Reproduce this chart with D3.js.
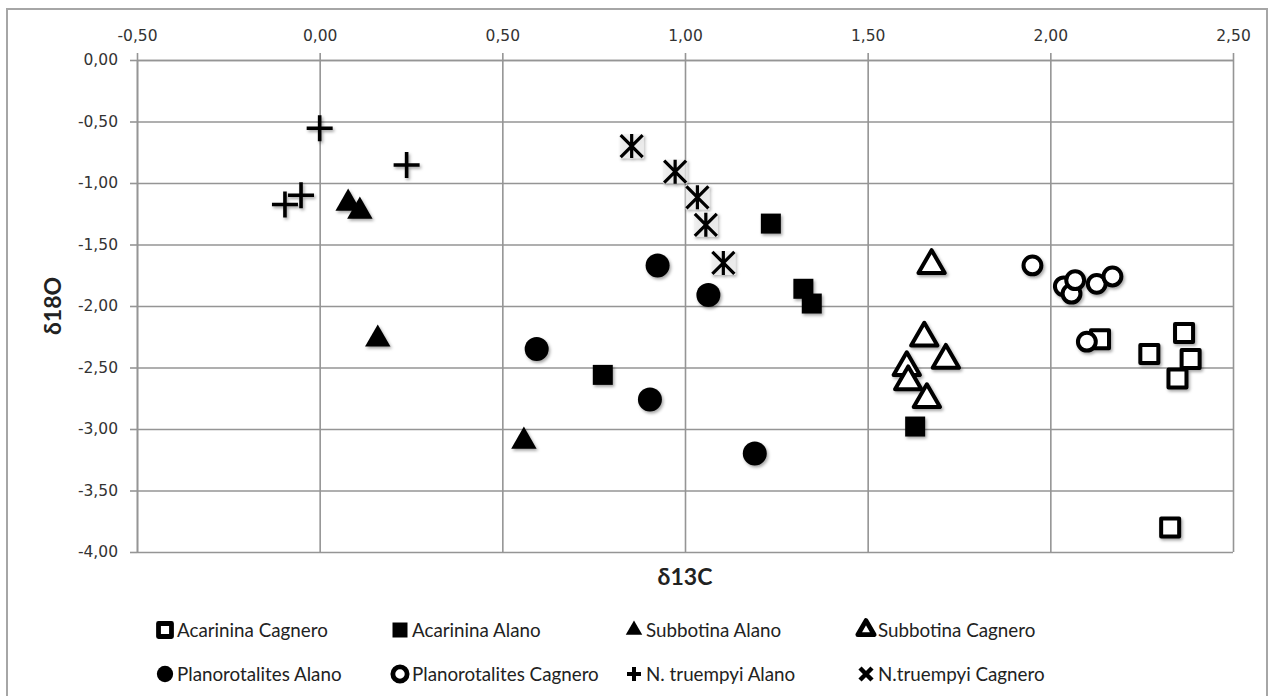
<!DOCTYPE html>
<html>
<head>
<meta charset="utf-8">
<script src="https://cdn.jsdelivr.net/npm/d3@7"></script>
<style>
  html, body { margin: 0; padding: 0; background: #fff; }
  svg { display: block; }
</style>
</head>
<body>
<svg id="chart" width="1273" height="696"></svg>
<script>
// δ13C / δ18O stable isotope values per taxon and section
const acarininaCagnero = [
  [2.136, -2.27], [2.366, -2.22], [2.271, -2.39], [2.384, -2.43], [2.348, -2.59], [2.328, -3.80]
];
const acarininaAlano = [
  [1.235, -1.33], [1.324, -1.86], [1.347, -1.98], [0.775, -2.56], [1.630, -2.98]
];
const subbotinaAlano = [
  [0.078, -1.165], [0.110, -1.23], [0.159, -2.27], [0.559, -3.10]
];
const subbotinaCagnero = [
  [1.675, -1.67], [1.655, -2.26], [1.714, -2.44], [1.607, -2.50], [1.611, -2.615], [1.662, -2.76]
];
const planorotalitesAlano = [
  [0.925, -1.67], [1.064, -1.91], [0.594, -2.35], [0.904, -2.76], [1.191, -3.20]
];
const planorotalitesCagnero = [
  [1.951, -1.67], [2.037, -1.84], [2.058, -1.90], [2.068, -1.79], [2.127, -1.82], [2.170, -1.76], [2.100, -2.29]
];
const truempyiAlano = [
  [0.000, -0.555], [0.238, -0.854], [-0.051, -1.10], [-0.095, -1.175]
];
const truempyiCagnero = [
  [0.854, -0.70], [0.973, -0.908], [1.034, -1.116], [1.057, -1.34], [1.105, -1.65]
];

const xTicks = [-0.5, 0, 0.5, 1, 1.5, 2, 2.5];
const yTicks = [0, -0.5, -1, -1.5, -2, -2.5, -3, -3.5, -4];
const xTitle = "δ13C";
const yTitle = "δ18O";

const seriesNames = [
  "Acarinina Cagnero", "Acarinina Alano", "Subbotina Alano", "Subbotina Cagnero",
  "Planorotalites Alano", "Planorotalites Cagnero", "N. truempyi Alano", "N.truempyi Cagnero"
];

const series = [
  { name: seriesNames[0], data: acarininaCagnero, shape: "openSquare" },
  { name: seriesNames[1], data: acarininaAlano, shape: "square" },
  { name: seriesNames[2], data: subbotinaAlano, shape: "triangle" },
  { name: seriesNames[3], data: subbotinaCagnero, shape: "openTriangle" },
  { name: seriesNames[4], data: planorotalitesAlano, shape: "circle" },
  { name: seriesNames[5], data: planorotalitesCagnero, shape: "openCircle" },
  { name: seriesNames[6], data: truempyiAlano, shape: "plus" },
  { name: seriesNames[7], data: truempyiCagnero, shape: "asterisk" }
];

const svg = d3.select("#chart");
const plot = { left: 137, right: 1233, top: 60, bottom: 552 };

const locale = d3.formatLocale({ decimal: ",", thousands: ".", grouping: [3], currency: ["", "€"], minus: "-" });
const fmt = locale.format(".2f");

const x = d3.scaleLinear().domain([-0.5, 2.5]).range([plot.left, plot.right]);
const y = d3.scaleLinear().domain([0, -4]).range([plot.top, plot.bottom]);

// marker drop shadow
const defs = svg.append("defs");
const f = defs.append("filter").attr("id", "shadow").attr("x", "-50%").attr("y", "-50%").attr("width", "200%").attr("height", "200%");
f.append("feDropShadow").attr("dx", 1.5).attr("dy", 2).attr("stdDeviation", 1.4)
  .attr("flood-color", "#000").attr("flood-opacity", 0.35);

// outer chart frame
svg.append("rect").attr("x", 7).attr("y", 9).attr("width", 1260).attr("height", 690)
  .attr("fill", "#fff").attr("stroke", "#a6a6a6").attr("stroke-width", 2);

const gridColor = "#959595";

// gridlines
svg.append("g").attr("transform", `translate(0,${plot.top})`)
  .call(d3.axisTop(x).tickValues(xTicks).tickSize(-(plot.bottom - plot.top)).tickFormat(""))
  .call(g => g.select(".domain").remove())
  .call(g => g.selectAll("line").attr("stroke", gridColor).attr("stroke-width", 1.6));
svg.append("g").attr("transform", `translate(${plot.left},0)`)
  .call(d3.axisLeft(y).tickValues(yTicks).tickSize(-(plot.right - plot.left)).tickFormat(""))
  .call(g => g.select(".domain").remove())
  .call(g => g.selectAll("line").attr("stroke", gridColor).attr("stroke-width", 1.6));

// axes with outside tick marks
const tickFont = "'DejaVu Sans', Verdana, sans-serif";
svg.append("g").attr("transform", `translate(0,${plot.top})`)
  .call(d3.axisTop(x).tickValues(xTicks).tickSizeInner(7).tickSizeOuter(0).tickPadding(12).tickFormat(fmt))
  .call(g => g.select(".domain").attr("stroke", gridColor).attr("stroke-width", 1.6))
  .call(g => g.selectAll("line").attr("stroke", gridColor).attr("stroke-width", 1.6))
  .call(g => g.selectAll("text").attr("font-family", tickFont).attr("font-size", 15.5).attr("fill", "#333"));
svg.append("g").attr("transform", `translate(${plot.left},0)`)
  .call(d3.axisLeft(y).tickValues(yTicks).tickSizeInner(7).tickSizeOuter(0).tickPadding(12).tickFormat(fmt))
  .call(g => g.select(".domain").attr("stroke", gridColor).attr("stroke-width", 1.6))
  .call(g => g.selectAll("line").attr("stroke", gridColor).attr("stroke-width", 1.6))
  .call(g => g.selectAll("text").attr("font-family", tickFont).attr("font-size", 15.5).attr("fill", "#333"));

// axis titles
const titleFont = "Lato, 'Open Sans', sans-serif";
svg.append("text").attr("x", (plot.left + plot.right) / 2).attr("y", 585)
  .attr("text-anchor", "middle").attr("font-family", titleFont).attr("font-weight", "bold")
  .attr("font-size", 23).attr("fill", "#222").text(xTitle);
svg.append("text").attr("transform", `translate(61,${(plot.top + plot.bottom) / 2}) rotate(-90)`)
  .attr("text-anchor", "middle").attr("font-family", titleFont).attr("font-weight", "bold")
  .attr("font-size", 23).attr("fill", "#222").text(yTitle);

// marker drawing; s scales the symbol, sw overrides the outline width
function drawMarker(g, shape, s, sw) {
  const w = sw || 4 * s;
  switch (shape) {
    case "square":
      g.append("path").attr("d", d3.symbol(d3.symbolSquare, 400 * s * s)()).attr("fill", "#000");
      break;
    case "openSquare":
      g.append("path").attr("d", d3.symbol(d3.symbolSquare, 324 * s * s)())
        .attr("fill", "#fff").attr("stroke", "#000").attr("stroke-width", w).attr("stroke-linejoin", "round");
      break;
    case "circle":
      g.append("path").attr("d", d3.symbol(d3.symbolCircle, 452 * s * s)()).attr("fill", "#000");
      break;
    case "openCircle":
      g.append("path").attr("d", d3.symbol(d3.symbolCircle, 250 * s * s)())
        .attr("fill", "#fff").attr("stroke", "#000").attr("stroke-width", w);
      break;
    case "triangle":
      g.append("path").attr("d", d3.symbol(d3.symbolTriangle, 280 * s * s)()).attr("fill", "#000");
      break;
    case "openTriangle":
      g.append("path").attr("d", d3.symbol(d3.symbolTriangle, 300 * s * s)())
        .attr("fill", "#fff").attr("stroke", "#000").attr("stroke-width", w).attr("stroke-linejoin", "round");
      break;
    case "plus": {
      const a = 13 * s;
      g.append("path").attr("d", `M${-a},0H${a}M0,${-a}V${a}`)
        .attr("stroke", "#000").attr("stroke-width", 3.6 * s).attr("fill", "none");
      break;
    }
    case "asterisk": {
      const a = 12 * s;
      const d = 11 * s;
      g.append("rect").attr("x", -a).attr("y", -a).attr("width", 2 * a).attr("height", 2 * a)
        .attr("fill", "#f0f0f0").attr("opacity", 0.7);
      g.append("path").attr("d", `M${-d},${-d}L${d},${d}M${-d},${d}L${d},${-d}M0,${-a}V${a}`)
        .attr("stroke", "#000").attr("stroke-width", 3.2 * s).attr("fill", "none");
      break;
    }
  }
}

// points
const pts = svg.append("g").attr("filter", "url(#shadow)");
series.forEach(sr => {
  sr.data.forEach(([dx, dy]) => {
    const g = pts.append("g").attr("transform", `translate(${x(dx)},${y(dy)})`);
    drawMarker(g, sr.shape, 1);
  });
});

// legend
const legendCols = [157, 392, 626, 858];
const legendRows = [630, 674];
const legendScale = {
  openSquare: 0.72, square: 0.75, triangle: 0.65, openTriangle: 0.62,
  circle: 0.68, openCircle: 0.8, plus: 0.65, asterisk: 0.7
};
const legend = svg.append("g");
series.forEach((sr, i) => {
  const cx = legendCols[i % 4] + 8;
  const cy = legendRows[Math.floor(i / 4)];
  const g = legend.append("g").attr("transform", `translate(${cx},${cy})`);
  if (sr.shape === "asterisk") {
    g.append("path").attr("d", "M-6,-6L6,6M-6,6L6,-6").attr("stroke", "#000").attr("stroke-width", 4.5);
  } else if (sr.shape === "plus") {
    g.append("path").attr("d", "M-7,0H7M0,-7V7").attr("stroke", "#000").attr("stroke-width", 4);
  } else {
    drawMarker(g, sr.shape, legendScale[sr.shape], 4.8);
  }
  legend.append("text").attr("x", cx + 12).attr("y", cy).attr("dy", "0.35em")
    .attr("font-family", "Lato, 'Open Sans', sans-serif").attr("font-size", 18.8).attr("fill", "#222")
    .text(sr.name);
});
</script>
</body>
</html>
